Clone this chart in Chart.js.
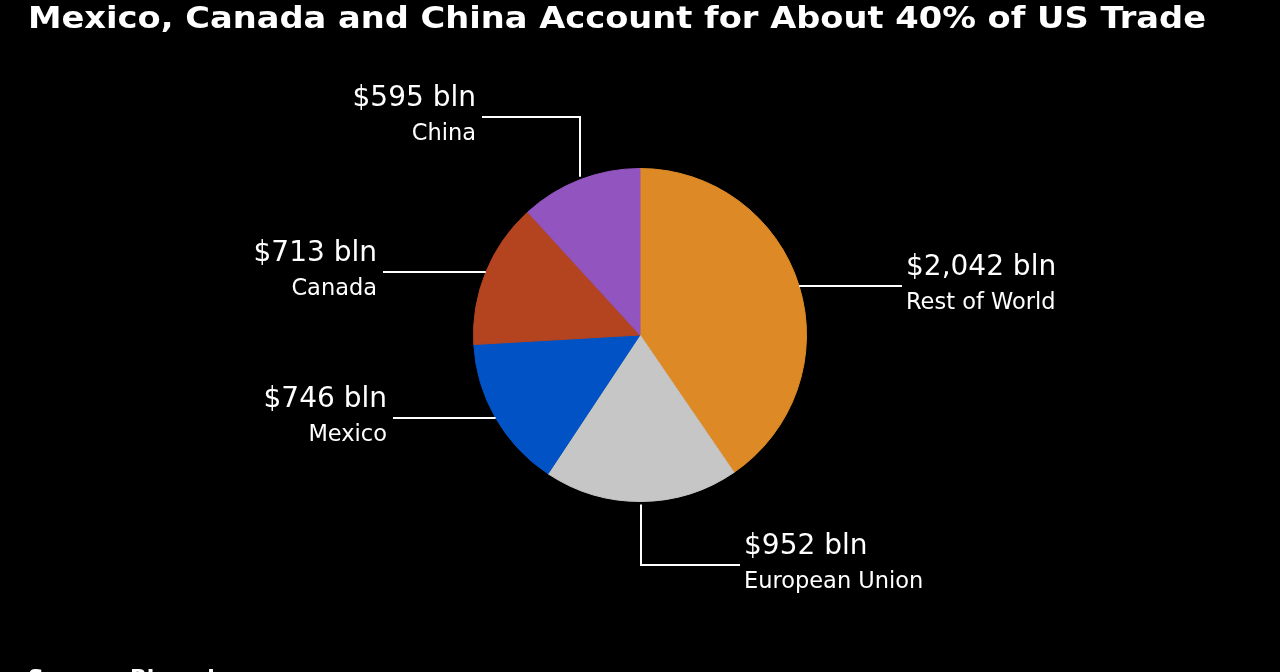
<!DOCTYPE html>
<html lang="en">
<head>
    <meta charset="UTF-8">
    <title>US Trade Partners</title>
    <script src="https://cdn.jsdelivr.net/npm/chart.js"></script>
    <style>
        html, body { margin: 0; padding: 0; background: #000; }
        #wrap { width: 1280px; height: 672px; position: relative; }
    </style>
</head>
<body>
    <div id="wrap"><canvas id="tradeChart"></canvas></div>

    <script>
        // values in billions of dollars, clockwise from 12 o'clock
        var categories = ['Rest of World', 'European Union', 'Mexico', 'Canada', 'China'];
        var tradeValues = [2042, 952, 746, 713, 595];
        var valueLabels = ['$2,042 bln', '$952 bln', '$746 bln', '$713 bln', '$595 bln'];
        var sliceColors = ['#dd8a26', '#c6c6c6', '#0153c5', '#b3441f', '#9254be'];

        var titleText = 'Mexico, Canada and China Account for About 40% of US Trade';
        var sourceText = 'Source: Bloomberg';

        // leader line layout per slice: 'h' = straight out sideways, 'v' = down/up then sideways
        var leaders = [
            { kind: 'h', toX: 902, side: 'right' },
            { kind: 'v', toY: 565, toX: 740, side: 'right' },
            { kind: 'h', toX: 393, side: 'left' },
            { kind: 'h', toX: 383, side: 'left' },
            { kind: 'v', toY: 117, toX: 482, side: 'left' }
        ];

        var labelPlugin = {
            id: 'leaderLabels',
            afterDatasetsDraw: function(chart) {
                var ctx = chart.ctx;
                var arcs = chart.getDatasetMeta(0).data;
                ctx.save();
                ctx.strokeStyle = '#ffffff';
                ctx.fillStyle = '#ffffff';
                ctx.lineWidth = 2;
                arcs.forEach(function(arc, i) {
                    var mid = (arc.startAngle + arc.endAngle) / 2;
                    var px = arc.x + Math.cos(mid) * arc.outerRadius;
                    var py = arc.y + Math.sin(mid) * arc.outerRadius;
                    var L = leaders[i];
                    var lineY, endX;
                    ctx.beginPath();
                    if (L.kind === 'h') {
                        lineY = Math.round(py);
                        ctx.moveTo(px, lineY);
                        ctx.lineTo(L.toX, lineY);
                    } else {
                        var vx = Math.round(px);
                        var startY = py + (L.toY > py ? 3 : -3);
                        lineY = L.toY;
                        ctx.moveTo(vx, startY);
                        ctx.lineTo(vx, lineY);
                        ctx.lineTo(L.toX, lineY);
                    }
                    ctx.stroke();
                    endX = L.side === 'right' ? L.toX + 4 : L.toX - 6;
                    ctx.textAlign = L.side === 'right' ? 'left' : 'right';
                    ctx.textBaseline = 'middle';
                    ctx.font = '28px "DejaVu Sans"';
                    ctx.fillText(valueLabels[i], endX, lineY - 18);
                    ctx.font = '22.5px "DejaVu Sans"';
                    ctx.fillText(categories[i], endX, lineY + 17);
                });

                // title: stretch to the reference width
                ctx.textAlign = 'left';
                ctx.textBaseline = 'alphabetic';
                ctx.font = 'bold 30px "DejaVu Sans"';
                var w = ctx.measureText(titleText).width;
                ctx.save();
                ctx.translate(28, 28);
                ctx.scale(1178 / w, 1);
                ctx.fillText(titleText, 0, 0);
                ctx.restore();

                ctx.font = 'bold 22px "DejaVu Sans"';
                ctx.fillText(sourceText, 28, 685);
                ctx.restore();
            }
        };

        var ctx = document.getElementById('tradeChart').getContext('2d');
        var chart = new Chart(ctx, {
            type: 'pie',
            data: {
                labels: categories,
                datasets: [{
                    data: tradeValues,
                    backgroundColor: sliceColors,
                    borderColor: sliceColors,
                    borderWidth: 1
                }]
            },
            options: {
                responsive: true,
                maintainAspectRatio: false,
                animation: false,
                layout: { padding: { left: 473, right: 473, top: 168, bottom: 170 } },
                plugins: {
                    legend: { display: false },
                    tooltip: { enabled: false }
                }
            },
            plugins: [labelPlugin]
        });
    </script>
</body>
</html>
